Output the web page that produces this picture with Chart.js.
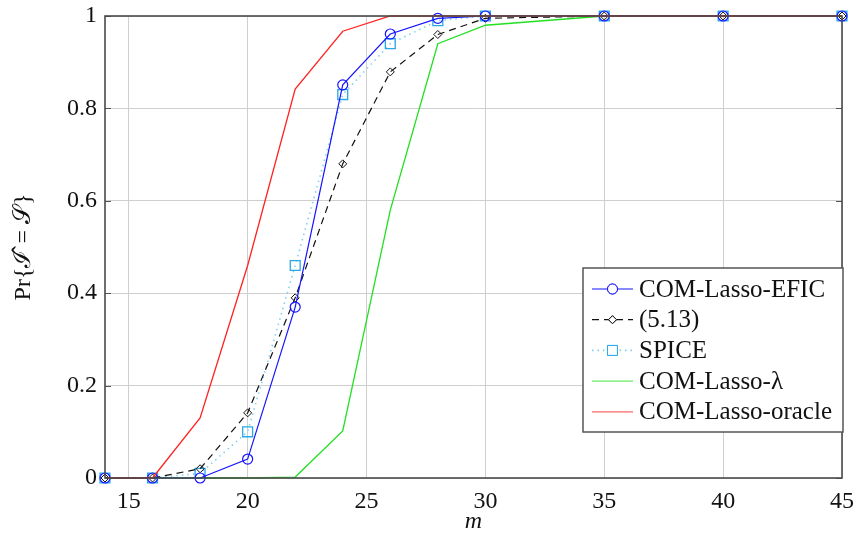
<!DOCTYPE html>
<html>
<head>
<meta charset="utf-8">
<script src="https://cdn.jsdelivr.net/npm/chart.js@4.4.1/dist/chart.umd.min.js"></script>
<style>
html,body{margin:0;padding:0;background:#fff;}
#wrap{width:856px;height:536px;position:relative;}
</style>
</head>
<body>
<div id="wrap"><canvas id="c" width="856" height="536"></canvas></div>
<script>
const mValues = [14, 16, 18, 20, 22, 24, 26, 28, 30, 35, 40, 45];
const efic   = [0, 0, 0, 0.041, 0.37, 0.851, 0.961, 0.995, 1, 1, 1, 1];
const eq513  = [0, 0, 0.02, 0.141, 0.39, 0.68, 0.879, 0.96, 0.995, 1, 1, 1];
const spice  = [0, 0, 0.01, 0.10, 0.46, 0.83, 0.94, 0.99, 1, 1, 1, 1];
const lassoLambda = [0, 0, 0, 0, 0.002, 0.102, 0.58, 0.94, 0.98, 1, 1, 1];
const lassoOracle = [0, 0, 0.13, 0.46, 0.842, 0.967, 1, 1, 1, 1, 1, 1];
const seriesNames = ['COM-Lasso-EFIC', '(5.13)', 'SPICE', 'COM-Lasso-\u03bb', 'COM-Lasso-oracle'];
const xTickValues = [15, 20, 25, 30, 35, 40, 45];
const yTickValues = [0, 0.2, 0.4, 0.6, 0.8, 1];
const xTitle = 'm';
const yTitle = 'Pr{\u2110\u0302 = \ud835\udcae}';

const FONT = "'Liberation Serif', 'DejaVu Serif', serif";
const pts = arr => arr.map((v, i) => ({x: mValues[i], y: v}));

const frameAndLegend = {
  id: 'frameAndLegend',
  afterDatasetsDraw(chart) {
    const {ctx, chartArea: a} = chart;
    const ys = chart.scales.y;
    ctx.save();
    ctx.strokeStyle = '#555';
    ctx.lineWidth = 1;
    yTickValues.forEach(v => {
      const py = Math.round(ys.getPixelForValue(v)) + 0.5;
      ctx.beginPath(); ctx.moveTo(a.left, py); ctx.lineTo(a.left + 6, py); ctx.stroke();
      ctx.beginPath(); ctx.moveTo(a.right, py); ctx.lineTo(a.right - 6, py); ctx.stroke();
    });
    ctx.strokeStyle = '#4a4a4a';
    ctx.lineWidth = 1.6;
    ctx.strokeRect(a.left, a.top, a.right - a.left, a.bottom - a.top);
    ctx.restore();
  },
  afterDraw(chart) {
    const {ctx, chartArea: a} = chart;
    ctx.save();
    const rowH = 30.7;
    const boxH = 164;
    const boxW = 260;
    const left = a.right - boxW + 1;
    const top = a.bottom - 46 - boxH;
    ctx.fillStyle = '#fff';
    ctx.fillRect(left, top, boxW, boxH);
    ctx.strokeStyle = '#555';
    ctx.lineWidth = 1.5;
    ctx.strokeRect(left, top, boxW, boxH);
    chart.data.datasets.forEach((ds, i) => {
      const cy = top + 21 + i * rowH;
      const x0 = left + 9, x1 = left + 50, xm = (x0 + x1) / 2;
      ctx.save();
      ctx.strokeStyle = ds.legendColor || ds.borderColor;
      ctx.lineWidth = ds.borderWidth;
      ctx.setLineDash(ds.borderDash || []);
      ctx.beginPath(); ctx.moveTo(x0, cy); ctx.lineTo(x1, cy); ctx.stroke();
      ctx.setLineDash([]);
      if (ds.pointRadius > 0) {
        ctx.fillStyle = '#fff';
        ctx.strokeStyle = ds.pointBorderColor;
        ctx.lineWidth = 1;
        Chart.helpers.drawPoint(ctx, {pointStyle: ds.pointStyle, radius: ds.pointRadius, borderWidth: 1, rotation: 0}, xm, cy);
        ctx.fill(); ctx.stroke();
      }
      ctx.restore();
      ctx.fillStyle = '#111';
      ctx.textBaseline = 'middle';
      ctx.textAlign = 'left';
      ctx.font = "25px " + FONT;
      ctx.fillText(ds.label, left + 56, cy + 1);
    });
    ctx.restore();
  }
};

new Chart(document.getElementById('c'), {
  type: 'line',
  data: {
    datasets: [
      {label: seriesNames[0], data: pts(efic), borderColor: '#1515ff', borderWidth: 1.2,
       pointStyle: 'circle', pointRadius: 5, pointBorderColor: '#1515ff', pointBackgroundColor: 'rgba(0,0,0,0)', pointBorderWidth: 1.2, order: 1},
      {label: seriesNames[1], data: pts(eq513), borderColor: '#111', borderWidth: 1.2, borderDash: [7, 5],
       pointStyle: 'rectRot', pointRadius: 4, pointBorderColor: '#111', pointBackgroundColor: 'rgba(0,0,0,0)', pointBorderWidth: 1, order: 2},
      {label: seriesNames[2], data: pts(spice), borderColor: '#7fd0f5', borderWidth: 1.6, borderDash: [1.5, 4],
       pointStyle: 'rect', pointRadius: 7, pointBorderColor: '#2aa8e6', pointBackgroundColor: 'rgba(0,0,0,0)', pointBorderWidth: 1.3, order: 3},
      {label: seriesNames[3], data: pts(lassoLambda), borderColor: '#22e022', legendColor: '#66ee66', borderWidth: 1.3,
       pointRadius: 0, order: 4},
      {label: seriesNames[4], data: pts(lassoOracle), borderColor: '#ff2222', legendColor: '#ff6666', borderWidth: 1.3,
       pointRadius: 0, order: 0}
    ]
  },
  options: {
    responsive: false,
    animation: false,
    clip: false,
    layout: {padding: {left: 0, right: 14, top: 16, bottom: 0}},
    elements: {line: {tension: 0}},
    plugins: {legend: {display: false}, tooltip: {enabled: false}},
    scales: {
      x: {
        type: 'linear', min: 14, max: 45,
        afterBuildTicks: s => { s.ticks = xTickValues.map(v => ({value: v})); },
        afterFit: s => { s.height = 58; s.paddingLeft = 0; s.paddingRight = 0; },
        grid: {color: '#cfcfcf', lineWidth: 1, drawTicks: false},
        border: {display: false},
        ticks: {padding: 9, color: '#111', font: {family: FONT, size: 24}, maxRotation: 0},
        title: {display: true, text: xTitle, color: '#111', padding: {top: 0, bottom: 0},
                font: {family: FONT, size: 24, style: 'italic'}}
      },
      y: {
        min: 0, max: 1,
        afterBuildTicks: s => { s.ticks = yTickValues.map(v => ({value: v})); },
        afterFit: s => { s.width = 105; s.paddingTop = 0; s.paddingBottom = 0; },
        grid: {color: '#cfcfcf', lineWidth: 1, drawTicks: false},
        border: {display: false},
        ticks: {padding: 8, color: '#111', font: {family: FONT, size: 24}, callback: v => String(v)},
        title: {display: true, text: yTitle, color: '#111', padding: {top: 9, bottom: 0},
                font: {family: FONT, size: 24}}
      }
    }
  },
  plugins: [frameAndLegend]
});
</script>
</body>
</html>
